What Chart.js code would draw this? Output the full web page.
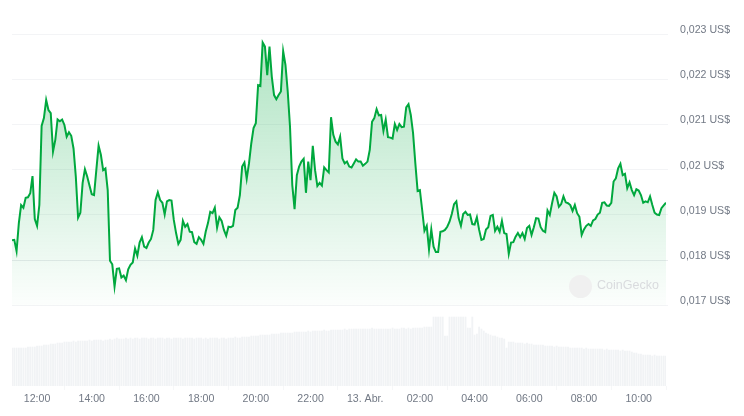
<!DOCTYPE html>
<html>
<head>
<meta charset="utf-8">
<style>
  html, body { margin: 0; padding: 0; background: #fff; }
  #wrap { position: relative; width: 744px; height: 416px; overflow: hidden; }
  #logo { position: absolute; left: 569px; top: 275px; width: 23px; height: 23px; border-radius: 50%; background: #f0f0f0; }
  #mark { position: absolute; left: 597px; top: 277px; font: 12.5px "Liberation Sans", sans-serif; line-height: 16px; color: #d9dbde; }
</style>
<script src="https://cdn.jsdelivr.net/npm/chart.js@4"></script>
</head>
<body>
<div id="wrap">
  <canvas id="chart" width="744" height="416"></canvas>
  <div id="logo"></div>
  <div id="mark">CoinGecko</div>
</div>
<script>
// one reading every 5 minutes, starting 11:05
const startMinute = 665;
const stepMinutes = 5;

const prices = [
  1844,1845,1820,1882,1922,1916,1938,1939,1948,1986,1891,1876,1922,2097,2114,2154,2132,2125,2040,2066,
  2111,2107,2111,2099,2073,2083,2075,2047,1985,1894,1905,1971,2001,1985,1965,1946,1944,1999,2053,2033,
  1999,2003,1955,1799,1791,1742,1781,1782,1762,1766,1756,1780,1790,1795,1826,1810,1839,1851,1830,1827,
  1839,1847,1867,1933,1950,1933,1927,1901,1930,1933,1932,1889,1860,1836,1845,1887,1874,1880,1863,1862,
  1840,1836,1851,1845,1836,1863,1882,1907,1904,1916,1872,1895,1887,1867,1854,1874,1873,1876,1911,1916,
  1944,2007,2016,1980,2014,2058,2092,2103,2187,2185,2281,2272,2209,2272,2206,2165,2156,2165,2173,2262,
  2232,2173,2095,1966,1913,1988,2007,2018,2024,1949,2018,1977,2053,1999,1964,1971,1965,2005,1999,1994,
  2116,2077,2062,2056,2073,2025,2014,2018,2007,2005,2014,2023,2018,2018,2009,2013,2018,2044,2106,2114,
  2134,2120,2121,2086,2111,2072,2071,2069,2101,2088,2101,2094,2095,2138,2145,2121,2081,2014,1953,1955,
  1911,1865,1876,1824,1868,1830,1818,1818,1863,1864,1867,1874,1885,1902,1924,1930,1893,1876,1902,1907,
  1900,1901,1880,1879,1895,1867,1845,1847,1868,1873,1898,1900,1865,1874,1863,1887,1860,1858,1814,1839,
  1840,1852,1860,1851,1860,1847,1871,1876,1856,1873,1893,1892,1873,1865,1862,1910,1900,1926,1949,1941,
  1918,1924,1941,1928,1926,1922,1909,1922,1904,1896,1856,1868,1876,1880,1876,1888,1891,1901,1905,1927,
  1928,1921,1920,1927,1974,1981,2003,2013,1988,1991,1959,1972,1955,1944,1957,1954,1944,1927,1930,1928,
  1941,1922,1905,1901,1900,1915,1921,1927
].map((v) => v / 100000);

// relative volume, no scale is shown in the picture
const volumes = [
  38,38,38,38,38,38,38,39,39,
  39,39,40,40,40,41,41,41,42,42,42,43,
  43,43,44,44,44,44,45,44,45,45,45,45,45,46,45,46,46,46,
  46,45,46,46,47,46,47,48,47,47,47,48,47,
  48,47,48,48,47,48,48,48,47,48,48,47,48,48,48,47,48,48,47,48,48,48,48,47,48,48,48,
  48,47,48,48,48,47,48,47,48,48,48,48,47,48,48,47,48,48,48,49,48,48,49,
  49,49,49,50,50,50,50,51,51,51,51,51,52,52,52,52,53,53,53,53,
  53,53,54,54,54,54,54,54,55,54,55,55,55,55,55,56,55,55,56,56,56,56,
  56,56,57,56,57,57,57,57,57,57,57,57,57,57,58,57,57,57,57,57,57,57,57,58,57,57,57,58,58,57,58,57,58,58,58,58,58,59,59,59,59,
  69,69,69,69,69,50,50,69,69,69,69,69,69,69,69,58,58,69,51,52,59,
  57,55,53,52,51,50,50,49,48,48,47,38,
  44,44,44,43,43,43,43,42,43,42,42,41,41,41,41,41,
  40,40,40,40,39,40,39,39,39,39,39,38,38,38,38,38,38,
  37,38,37,37,37,37,37,37,37,36,37,36,36,36,36,36,35,36,35,35,35,
  34,33,33,32,32,31,31,31,31,30,31,30,30,30,30,30
];

const timeTicks = [720, 840, 960, 1080, 1200, 1320, 1440, 1560, 1680, 1800, 1920, 2040];
const timeLabels = ["12:00", "14:00", "16:00", "18:00", "20:00", "22:00", "13. Abr.", "02:00", "04:00", "06:00", "08:00", "10:00"];
const priceTicks = [0.017, 0.018, 0.019, 0.02, 0.021, 0.022, 0.023];
const priceLabels = ["0,017 US$", "0,018 US$", "0,019 US$", "0,02 US$", "0,021 US$", "0,022 US$", "0,023 US$"];

const axisFont = { family: '"Liberation Sans", sans-serif', size: 10.6 };

function priceFill(context) {
  const { chart } = context;
  if (!chart.chartArea) return "rgba(0,168,62,0.1)";
  const yScale = chart.scales.y;
  const grad = chart.ctx.createLinearGradient(0, yScale.getPixelForValue(0.023), 0, yScale.getPixelForValue(0.017));
  grad.addColorStop(0, "rgba(0,168,62,0.32)");
  grad.addColorStop(1, "rgba(0,168,62,0.01)");
  return grad;
}

new Chart(document.getElementById("chart"), {
  data: {
    datasets: [
      {
        type: "line",
        data: prices.map((p, i) => ({ x: startMinute + i * stepMinutes, y: p })),
        xAxisID: "x",
        yAxisID: "y",
        borderColor: "#00a83e",
        borderWidth: 2,
        backgroundColor: priceFill,
        fill: { value: 0.017 },
        pointRadius: 0,
        tension: 0,
        order: 1,
      },
      {
        type: "bar",
        data: volumes.map((v, i) => ({ x: startMinute + i * stepMinutes, y: v })),
        xAxisID: "x",
        yAxisID: "yVolume",
        backgroundColor: "#f1f3f5",
        barThickness: 1.2,
        order: 2,
      },
    ],
  },
  options: {
    responsive: false,
    animation: false,
    layout: { padding: { left: 12, top: 34, right: 0, bottom: 0 } },
    plugins: { legend: { display: false }, tooltip: { enabled: false } },
    scales: {
      x: {
        type: "linear",
        offset: false,
        min: startMinute,
        max: startMinute + (prices.length - 1) * stepMinutes,
        grid: { drawOnChartArea: false, tickLength: 4, color: "#f6f7f8" },
        border: { display: false },
        afterBuildTicks: (axis) => { axis.ticks = timeTicks.map((value) => ({ value })); },
        afterFit: (axis) => { axis.height = 30; },
        ticks: {
          autoSkip: false,
          maxRotation: 0,
          padding: 3,
          color: "#727985",
          font: axisFont,
          callback: (value) => timeLabels[timeTicks.indexOf(value)],
        },
      },
      y: {
        position: "right",
        min: 0.01522,
        max: 0.023,
        grid: {
          color: (ctx) => (ctx.tick && ctx.tick.value === 0.018 ? "#e9ebee" : "#f3f4f6"),
          tickLength: 2,
        },
        border: { display: false },
        afterBuildTicks: (axis) => { axis.ticks = priceTicks.map((value) => ({ value })); },
        afterFit: (axis) => { axis.width = 78; },
        ticks: {
          padding: 12,
          labelOffset: -4,
          color: "#727985",
          font: axisFont,
          callback: (value) => priceLabels[priceTicks.indexOf(value)],
        },
      },
      yVolume: {
        display: false,
        min: 0,
        max: 352,
      },
    },
  },
});
</script>
</body>
</html>
